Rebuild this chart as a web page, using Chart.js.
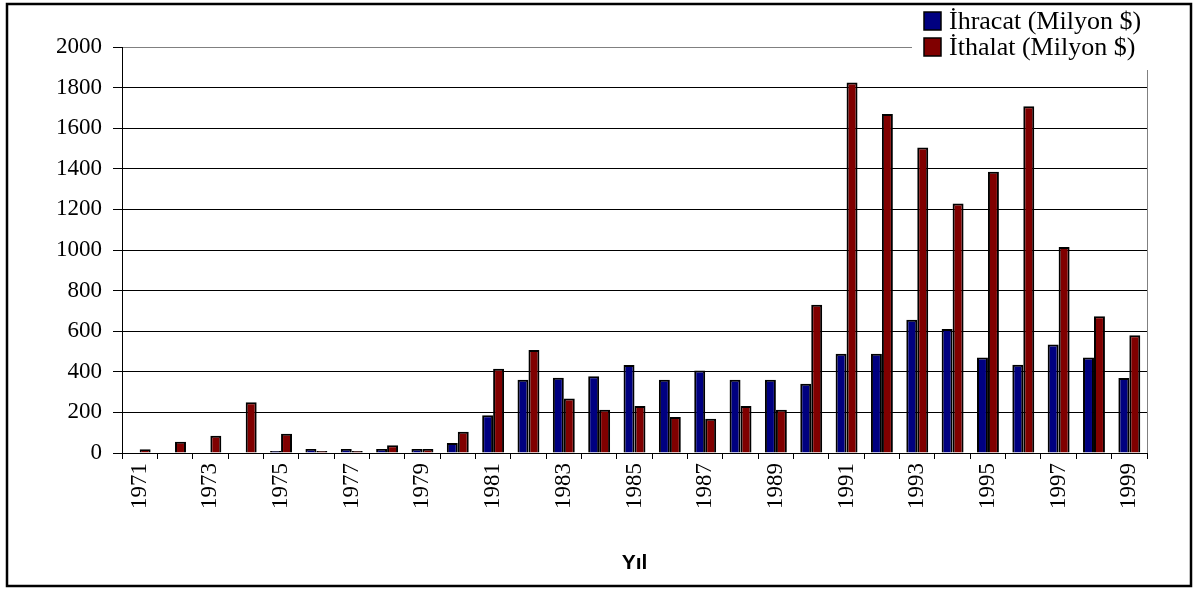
<!DOCTYPE html>
<html>
<head>
<meta charset="utf-8">
<script src="https://cdn.jsdelivr.net/npm/chart.js@4/dist/chart.umd.min.js"></script>
<style>
  body { margin: 0; background: #fff; }
  #wrap { width: 1197px; height: 590px; }
</style>
</head>
<body>
<div id="wrap"><canvas id="tradeChart"></canvas></div>
<script>
const years = ['1971', '1972', '1973', '1974', '1975', '1976', '1977', '1978', '1979', '1980',
  '1981', '1982', '1983', '1984', '1985', '1986', '1987', '1988', '1989', '1990',
  '1991', '1992', '1993', '1994', '1995', '1996', '1997', '1998', '1999'];
const ihracat = [0, 0, 0, 0, 10, 20, 20, 20, 20, 49,
  186, 361, 371, 378, 433, 361, 407, 361, 361, 341,
  489, 489, 657, 611, 471, 435, 535, 471, 369];
const ithalat = [18, 55, 85, 250, 95, 10, 10, 38, 20, 105,
  415, 507, 269, 213, 231, 177, 169, 231, 213, 730,
  1825, 1670, 1505, 1229, 1385, 1708, 1015, 674, 580];
const yTicks = { min: 0, max: 2000, step: 200 };

const serif = "'Liberation Serif', 'Times New Roman', serif";

// white background, outer frame, right plot border and the legend box
const framePlugin = {
  id: 'frame',
  beforeDraw(chart) {
    const ctx = chart.ctx;
    ctx.save();
    ctx.fillStyle = '#fff';
    ctx.fillRect(0, 0, chart.width, chart.height);
    ctx.restore();
  },
  afterDraw(chart) {
    const ctx = chart.ctx;
    const area = chart.chartArea;
    ctx.save();
    // grey right edge of the plot
    ctx.strokeStyle = '#808080';
    ctx.lineWidth = 1;
    ctx.beginPath();
    ctx.moveTo(Math.round(area.right) + 0.5, area.top);
    ctx.lineTo(Math.round(area.right) + 0.5, area.bottom);
    ctx.stroke();

    // legend
    ctx.fillStyle = '#fff';
    ctx.fillRect(912, 6, 240, 64);
    ctx.font = '26px ' + serif;
    ctx.textBaseline = 'middle';
    chart.data.datasets.forEach((ds, i) => {
      const cy = 21 + i * 26;
      ctx.fillStyle = ds.backgroundColor;
      ctx.fillRect(924, cy - 9, 17, 18);
      ctx.strokeStyle = '#000';
      ctx.lineWidth = 1.5;
      ctx.strokeRect(924, cy - 9, 17, 18);
      ctx.fillStyle = '#000';
      ctx.fillText(ds.label, 949, cy + 1);
    });

    // outer frame
    ctx.strokeStyle = '#000';
    ctx.lineWidth = 2.5;
    ctx.strokeRect(7, 4, 1184, 582);
    ctx.restore();
  }
};

new Chart(document.getElementById('tradeChart'), {
  type: 'bar',
  data: {
    labels: years,
    datasets: [{
      label: 'İhracat (Milyon $)',
      data: ihracat,
      backgroundColor: '#000080',
      borderColor: '#000',
      borderWidth: 2
    }, {
      label: 'İthalat (Milyon $)',
      data: ithalat,
      backgroundColor: '#800000',
      borderColor: '#000',
      borderWidth: 2
    }]
  },
  options: {
    responsive: true,
    maintainAspectRatio: false,
    animation: false,
    layout: { padding: { left: 10, right: 50, top: 47, bottom: 12 } },
    datasets: { bar: { categoryPercentage: 0.62, barPercentage: 1 } },
    scales: {
      x: {
        grid: { display: true, drawOnChartArea: false, offset: true, tickLength: 6, color: '#000', tickColor: '#000' },
        border: { color: '#000', width: 1 },
        ticks: {
          autoSkip: false,
          minRotation: 90,
          maxRotation: 90,
          padding: 4,
          color: '#000',
          font: { family: serif, size: 23 },
          callback: (v, i) => (i % 2 === 0 ? years[i] : '')
        },
        title: {
          display: true,
          text: 'Yıl',
          color: '#000',
          font: { family: "'Liberation Sans', Arial, sans-serif", size: 21, weight: 'bold' },
          padding: { top: 0, bottom: 2 }
        },
        afterFit: (s) => { s.height = 125; }
      },
      y: {
        min: yTicks.min,
        max: yTicks.max,
        grid: {
          color: (c) => (c.tick && c.tick.value === yTicks.max ? '#808080' : '#000'),
          tickColor: '#000',
          tickLength: 9,
          lineWidth: 1
        },
        border: { color: '#000', width: 1 },
        ticks: {
          stepSize: yTicks.step,
          padding: 11,
          color: '#000',
          font: { family: serif, size: 23 },
          callback: (v) => String(v)
        },
        afterFit: (s) => { s.width = 112; }
      }
    },
    plugins: {
      legend: { display: false },
      tooltip: { enabled: false }
    }
  },
  plugins: [framePlugin]
});
</script>
</body>
</html>
